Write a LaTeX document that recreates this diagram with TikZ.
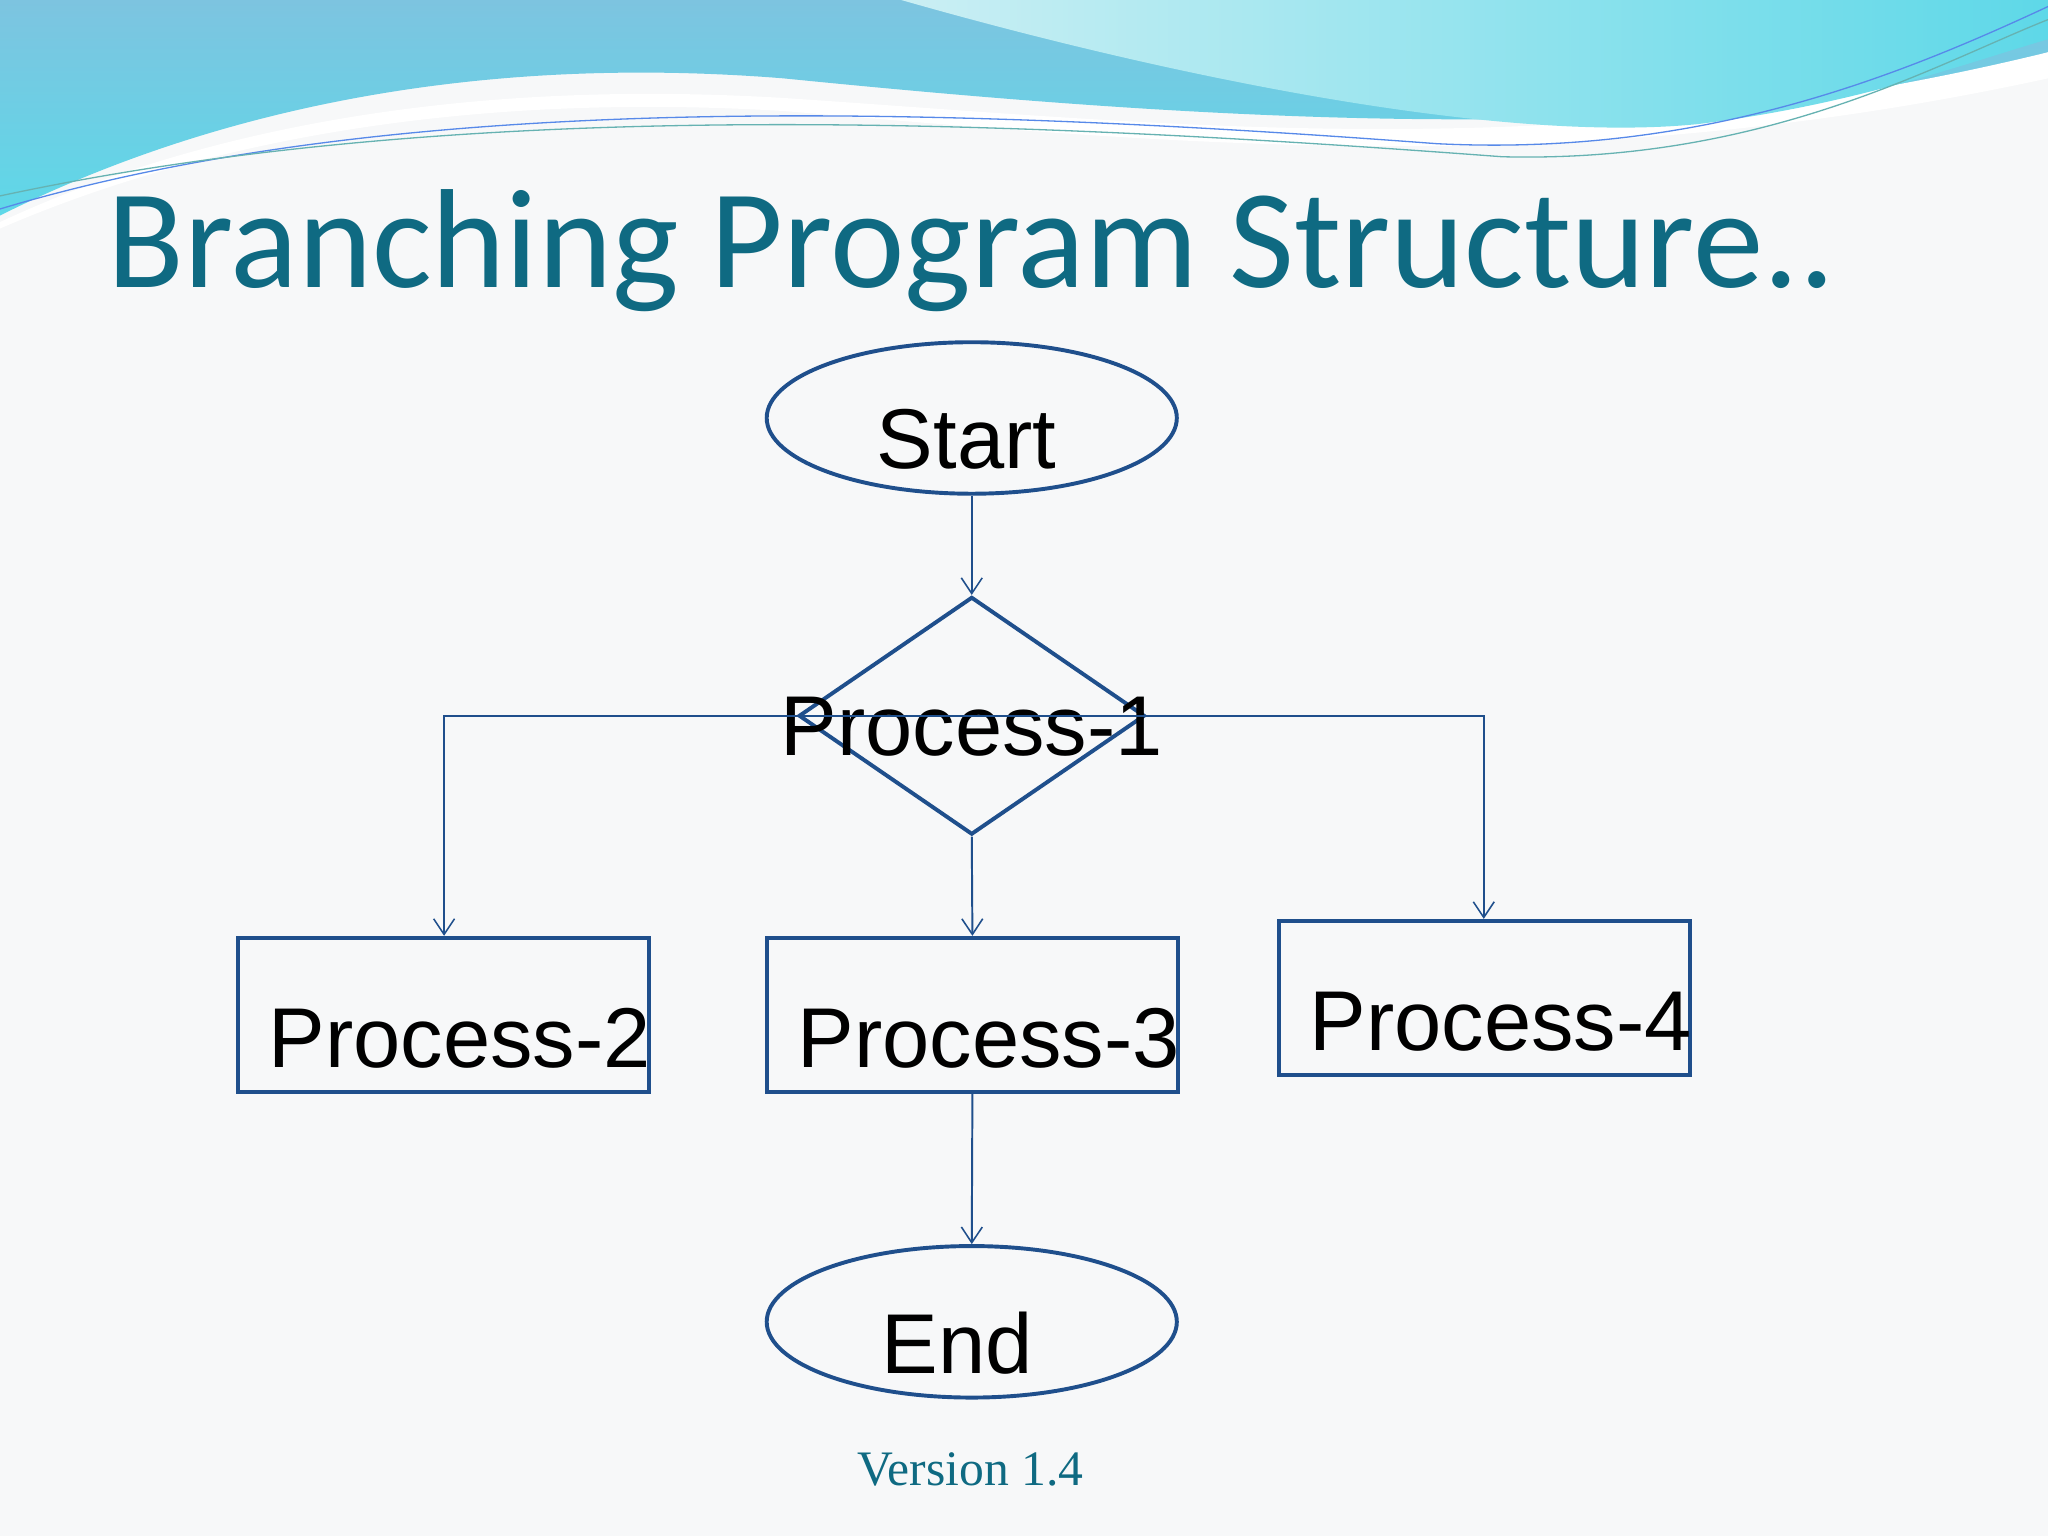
\documentclass[tikz,border=0pt]{standalone}
\usepackage{fontspec}
\setmainfont{Liberation Sans}
\newfontfamily\titlefont{Carlito}
\newfontfamily\verfont{Liberation Serif}
\usetikzlibrary{shapes.geometric,arrows.meta}
\definecolor{teal1}{HTML}{0F6A82}
\definecolor{edge}{HTML}{1F4F8C}
\definecolor{bg}{HTML}{F7F8F9}
\definecolor{waveA}{HTML}{7DC4E0}
\definecolor{waveB}{HTML}{5ED8E8}
\definecolor{waveC}{HTML}{A8E4EC}
\begin{document}
\begin{tikzpicture}[x=1pt,y=-1pt,
  shapeline/.style={draw=edge,line width=3pt},
  conn/.style={draw=edge,line width=1.5pt,-{Straight Barb[length=12pt,width=16pt,line width=1.2pt]}},
  lbl/.style={font=\fontsize{65}{67}\selectfont}]
\useasboundingbox (0,0) rectangle (1568,1176);
\fill[bg] (0,0) rectangle (1568,1176);
% waves
\shade[top color=waveA,bottom color=waveB] (0,0) -- (1568,0) -- (1568,40)
  .. controls (1300,120) and (900,90) .. (600,60)
  .. controls (350,40) and (150,90) .. (0,165) -- cycle;
\fill[white] (0,170) .. controls (150,100) and (350,60) .. (600,75)
  .. controls (900,95) and (1200,130) .. (1568,40) -- (1568,60)
  .. controls (1200,140) and (900,110) .. (600,85) .. controls (350,70) and (150,110) .. (0,175) -- cycle;
\shade[left color=waveC!60!white,right color=waveB] (690,0) .. controls (900,60) and (1150,110) .. (1300,95)
  .. controls (1420,80) and (1500,50) .. (1568,30) -- (1568,0) -- cycle;
\draw[waveA!70!blue,line width=1pt] (0,160) .. controls (300,70) and (700,80) .. (1100,110) .. controls (1300,120) and (1450,60) .. (1568,5);
\draw[teal!60,line width=1pt] (0,150) .. controls (350,75) and (750,90) .. (1150,120) .. controls (1350,125) and (1480,50) .. (1568,15);
% title
\node[anchor=base west,inner sep=0pt,text=teal1,font=\titlefont\fontsize{108}{108}\selectfont] (title) at (82,220) {Branching Program Structure..};
% nodes
\node[shapeline,ellipse,minimum width=314pt,minimum height=116pt] (start) at (744,320) {};
\node[lbl] at (740,336) {Start};
\node[shapeline,diamond,minimum width=265pt,minimum height=182pt,inner sep=0pt] (p1) at (744,548) {};
\node[lbl] at (744,556) {Process-1};
\node[shapeline,rectangle,minimum width=315pt,minimum height=118pt,inner sep=0pt] (p2) at (339.5,777) {};
\node[lbl] at (352,795) {Process-2};
\node[shapeline,rectangle,minimum width=315pt,minimum height=118pt,inner sep=0pt] (p3) at (744.5,777) {};
\node[lbl] at (757,795) {Process-3};
\node[shapeline,rectangle,minimum width=315pt,minimum height=118pt,inner sep=0pt] (p4) at (1136.5,764) {};
\node[lbl] at (1149,782) {Process-4};
\node[shapeline,ellipse,minimum width=314pt,minimum height=116pt] (end) at (744,1012) {};
\node[lbl] at (733,1028) {End};
\node[text=teal1,font=\verfont\fontsize{38}{40}\selectfont] (ver) at (743,1125) {Version 1.4};
% connectors
\coordinate (lc) at (340,548);
\coordinate (rc) at (1136,548);
\draw[conn] (start.south) -- (p1.north);
\draw[conn] (p1.south) -- (p3.north);
\draw[conn] (p3.south) -- (end.north);
\draw[conn] (p1.center) -- (lc) -- (lc |- p2.north);
\draw[conn] (p1.center) -- (rc) -- (rc |- p4.north);
\end{tikzpicture}
\end{document}
